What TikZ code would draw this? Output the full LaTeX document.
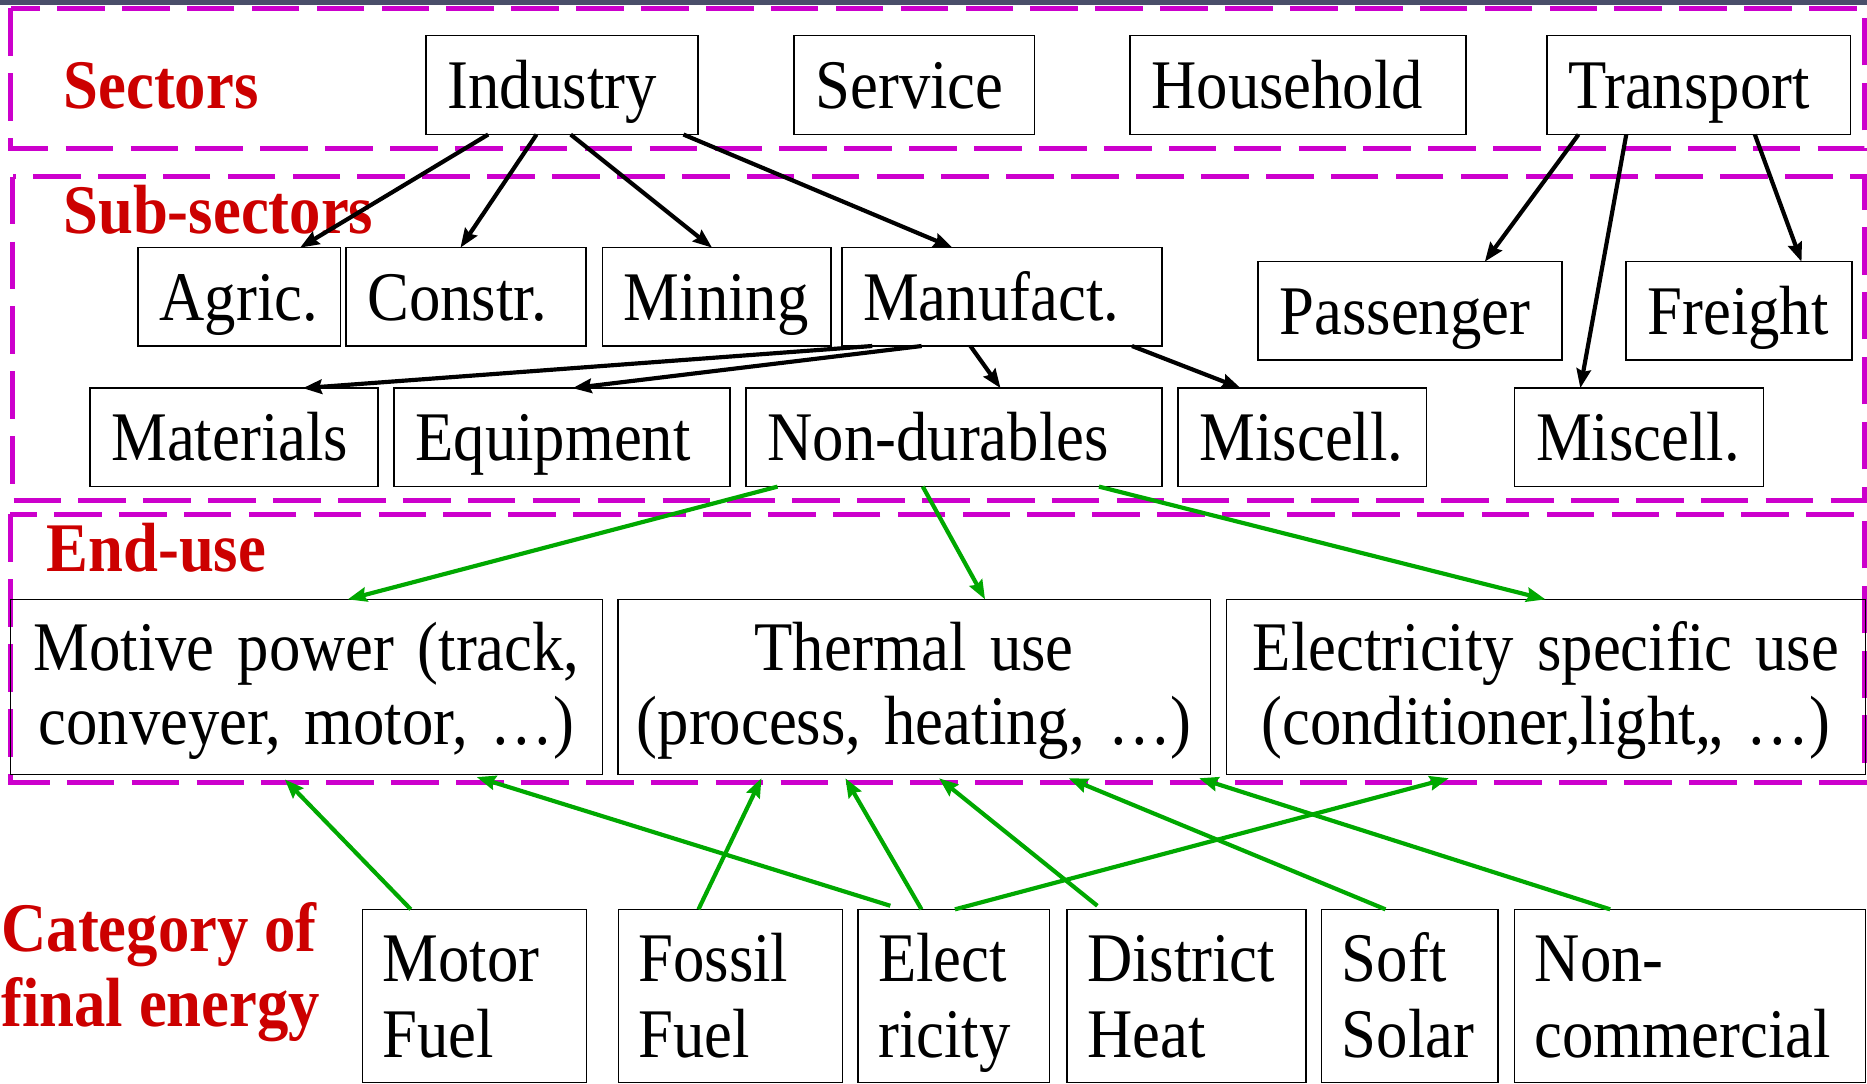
\documentclass[tikz,border=0pt]{standalone}
\usepackage{fontspec}
\setmainfont{Liberation Serif}[FakeStretch=0.9]
\usetikzlibrary{arrows.meta}
\definecolor{secred}{HTML}{CC0000}
\definecolor{dmag}{HTML}{CC00CC}
\definecolor{agreen}{HTML}{00A800}
\definecolor{topband}{HTML}{4A4E6A}
\newcommand\bxfont{\fontsize{58.5pt}{62.5pt}\selectfont}
\newcommand\catfont{\fontsize{58.5pt}{64.5pt}\selectfont}
\newcommand\lblfont{\fontsize{58.5pt}{62.5pt}\selectfont\bfseries}
\begin{document}
\begin{tikzpicture}[x=1pt,y=-1pt,
  dbox/.style={draw=dmag, line width=4.2pt, dash pattern=on 40pt off 14.5pt},
  box/.style={draw=black, line width=1.3pt, inner ysep=0pt, outer sep=0pt, font=\bxfont},
  sbox/.style={box, inner xsep=18pt, align=left, text height=39pt, text depth=0pt},
  ebox/.style={box, inner xsep=10pt, align=center, text height=0pt, text depth=28pt, minimum height=147.2pt},
  cbox/.style={box, font=\catfont, inner xsep=17pt, align=left, text height=0pt, text depth=24.7pt, minimum height=145.3pt},
  lbl/.style={text=secred, font=\lblfont, inner sep=0pt, anchor=base west},
  blk/.style={draw=black, line width=3.5pt, -{Stealth[length=16pt,width=12pt,inset=2pt]}},
  grn/.style={draw=agreen, line width=3.5pt, -{Stealth[length=16pt,width=12pt,inset=2pt]}}]
\useasboundingbox (0,0) rectangle (1568,910);
\fill[topband] (0,0) rectangle (1568,4.5);
% group frames
\draw[dbox] (9.1,7.1) rectangle (1566,124.6);
\draw[dbox] (10.5,148.4) rectangle (1566,420);
\draw[dbox] (8.6,432) rectangle (1566,657);
% sectors
\node[sbox, text width=192pt, minimum height=83pt] (ind) at (472,71.5) {Industry};
\node[sbox, text width=166pt, minimum height=83pt] (ser) at (768,71.5) {Service};
\node[sbox, text width=246pt, minimum height=83pt] (hou) at (1090,71.5) {Household};
\node[sbox, text width=219pt, minimum height=83pt] (tra) at (1426.5,71.5) {Transport};
% sub-sectors
\node[sbox, text width=134pt, minimum height=82.6pt] (agr) at (201,249.3) {Agric.};
\node[sbox, text width=165.5pt, minimum height=82.6pt] (con) at (391.25,249.3) {Constr.};
\node[sbox, text width=156pt, minimum height=82.6pt] (mnn) at (602,249.3) {Mining};
\node[sbox, text width=233pt, minimum height=82.6pt] (man) at (841.5,249.3) {Manufact.};
\node[sbox, text width=219.3pt, minimum height=82.5pt] (pas) at (1184.35,261.05) {Passenger};
\node[sbox, text width=153.9pt, minimum height=82.5pt] (fre) at (1460.55,261.05) {Freight};
\node[sbox, text width=206.1pt, minimum height=82.7pt] (mat) at (196.55,367.35) {Materials};
\node[sbox, text width=246pt, minimum height=82.7pt] (equ) at (472,367.35) {Equipment};
\node[sbox, text width=313.4pt, minimum height=82.7pt] (nond) at (801.3,367.35) {Non-durables};
\node[sbox, text width=172.5pt, minimum height=82.7pt] (misa) at (1093.75,367.35) {Miscell.};
\node[sbox, text width=173pt, minimum height=82.7pt] (misb) at (1376.5,367.35) {Miscell.};
% end-use
\node[ebox, text width=477pt] (mot) at (257.5,577) {\mbox{Motive power (track,}\\\mbox{conveyer, motor, …)}};
\node[ebox, text width=477.6pt] (the) at (767.8,577) {\mbox{Thermal use}\\\mbox{(process, heating, …)}};
\node[ebox, text width=516.7pt] (eus) at (1298.35,577) {\mbox{Electricity specific use}\\\mbox{(conditioner,light,, …)}};
% category of final energy
\node[cbox, text width=154.2pt] (mf) at (398.5,836.35) {Motor\\Fuel};
\node[cbox, text width=154.2pt] (ff) at (613.4,836.35) {Fossil\\Fuel};
\node[cbox, text width=126.8pt] (el) at (801,836.35) {Elect\\ricity};
\node[cbox, text width=167pt] (dh) at (996.5,836.35) {District\\Heat};
\node[cbox, text width=114pt] (ss) at (1184,836.35) {Soft\\Solar};
\node[cbox, text width=260.7pt] (nc) at (1419.35,836.35) {Non-\\commercial};
% labels
\node[lbl] (lsec) at (53.2,91) {Sectors};
\node[lbl] (lsub) at (53,196) {Sub-sectors};
\node[lbl] (lend) at (39,480) {End-use};
\node[lbl] (lcata) at (1,799.4) {Category of};
\node[lbl] (lcatb) at (1,862.5) {final energy};
% black arrows
\draw[blk] ([xshift=52pt]ind.south west) -- ([xshift=136pt]agr.north west);
\draw[blk] ([xshift=92.6pt]ind.south west) -- ([xshift=96.2pt]con.north west);
\draw[blk] ([xshift=121.3pt]ind.south west) -- ([xshift=92pt]mnn.north west);
\draw[blk] ([xshift=216pt]ind.south west) -- ([xshift=93pt]man.north west);
\draw[blk] ([xshift=25.5pt]man.south west) -- ([xshift=178.8pt]mat.north west);
\draw[blk] ([xshift=67pt]man.south west) -- ([xshift=149.8pt]equ.north west);
\draw[blk] ([xshift=108pt]man.south west) -- ([xshift=213.7pt]nond.north west);
\draw[blk] ([xshift=243.7pt]man.south west) -- ([xshift=52.5pt]misa.north west);
\draw[blk] ([xshift=26.7pt]tra.south west) -- ([xshift=190.3pt]pas.north west);
\draw[blk] ([xshift=66.8pt]tra.south west) -- ([xshift=55.2pt]misb.north west);
\draw[blk] ([xshift=174.8pt]tra.south west) -- ([xshift=147.4pt]fre.north west);
% green arrows, sub-sectors to end-use
\draw[grn] ([xshift=26.4pt]nond.south west) -- ([xshift=283pt]mot.north west);
\draw[grn] ([xshift=148.4pt]nond.south west) -- ([xshift=308.3pt]the.north west);
\draw[grn] ([xshift=296.4pt]nond.south west) -- ([xshift=268pt]eus.north west);
% green arrows, final energy to end-use
\draw[grn] ([xshift=40.6pt]mf.north west) -- ([xshift=230.2pt,yshift=-4pt]mot.south west);
\draw[grn] ([xshift=27.1pt,yshift=3pt]el.north west) -- ([xshift=391.3pt,yshift=-2pt]mot.south west);
\draw[grn] ([xshift=67.3pt]ff.north west) -- ([xshift=120.5pt,yshift=-3pt]the.south west);
\draw[grn] ([xshift=53.3pt]el.north west) -- ([xshift=191pt,yshift=-3pt]the.south west);
\draw[grn] ([xshift=81.4pt]el.north west) -- ([xshift=186.8pt,yshift=-3pt]eus.south west);
\draw[grn] ([xshift=25.6pt,yshift=3pt]dh.north west) -- ([xshift=269.6pt,yshift=-3pt]the.south west);
\draw[grn] ([xshift=53.6pt]ss.north west) -- ([xshift=378.5pt,yshift=-3pt]the.south west);
\draw[grn] ([xshift=80.3pt]nc.north west) -- ([xshift=488pt,yshift=-3pt]the.south west);
\end{tikzpicture}
\end{document}
